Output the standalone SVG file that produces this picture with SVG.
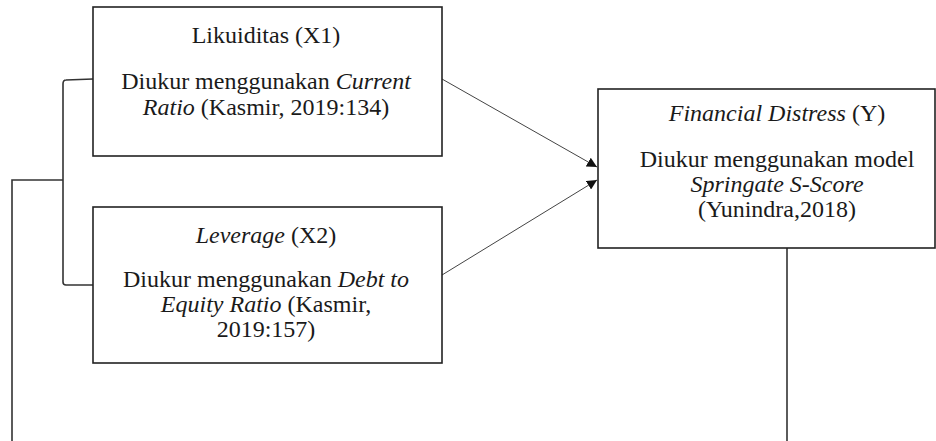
<svg xmlns="http://www.w3.org/2000/svg" width="936" height="441" viewBox="0 0 936 441">
<style>
.box{fill:#fff;stroke:#222;stroke-width:1.6}
.t{font-family:"Liberation Serif","Times New Roman",serif;font-size:24px;fill:#1a1a1a;text-anchor:middle}
.i{font-style:italic}
.ln{fill:none;stroke:#333;stroke-width:1.6}
.ar{fill:none;stroke:#444;stroke-width:1}
</style>
<defs>
<marker id="ah" viewBox="0 0 10 10" refX="10" refY="5" markerWidth="10" markerHeight="10" markerUnits="userSpaceOnUse" orient="auto">
<path d="M0,0 L10,5 L0,10 z" fill="#111"/>
</marker>
</defs>
<rect width="936" height="441" fill="#fff"/>
<g id="connectors">
<path class="ln" d="M93,79 L66,80 Q63,80 63,84 L63,282 Q63,285 66,285 L93,285"/>
<path class="ln" d="M63,180 L12,180 L12,441"/>
<path class="ln" d="M787,248 L787,441"/>
<path class="ar" d="M442,79 L597,167" marker-end="url(#ah)"/>
<path class="ar" d="M442,275 L597,180" marker-end="url(#ah)"/>
</g>
<g id="x1">
<rect class="box" x="93" y="7" width="349" height="149"/>
<text class="t" x="266" y="43">Likuiditas (X1)</text>
<text class="t" x="266" y="89">Diukur menggunakan <tspan class="i">Current</tspan></text>
<text class="t" x="266" y="115"><tspan class="i">Ratio</tspan> (Kasmir, 2019:134)</text>
</g>
<g id="x2">
<rect class="box" x="93" y="207" width="349" height="156"/>
<text class="t" x="266" y="243"><tspan class="i">Leverage</tspan> (X2)</text>
<text class="t" x="266" y="287">Diukur menggunakan <tspan class="i">Debt to</tspan></text>
<text class="t" x="266" y="312"><tspan class="i">Equity Ratio</tspan> (Kasmir,</text>
<text class="t" x="266" y="337">2019:157)</text>
</g>
<g id="y">
<rect class="box" x="598" y="89" width="337" height="159"/>
<text class="t" x="777" y="121"><tspan class="i">Financial Distress</tspan> (Y)</text>
<text class="t" x="777" y="167">Diukur menggunakan model</text>
<text class="t" x="777" y="192"><tspan class="i">Springate S-Score</tspan></text>
<text class="t" x="777" y="217">(Yunindra,2018)</text>
</g>
</svg>
